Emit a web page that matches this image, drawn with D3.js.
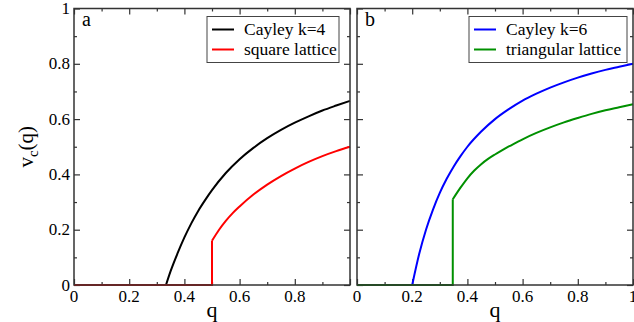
<!DOCTYPE html>
<html lang="en">
<head>
  <meta charset="UTF-8">
  <title>v_c(q)</title>
  <script src="https://d3js.org/d3.v7.min.js"></script>
  <style>
    body { margin: 0; background: #fff; }
  </style>
</head>
<body>
  <div class="canvas"></div>
  <script>
    // values
    const qCayley4 = [0.3333, 0.35, 0.375, 0.4, 0.425, 0.45, 0.475, 0.5, 0.55, 0.6, 0.65, 0.7, 0.75, 0.8, 0.85, 0.9, 0.95, 1.0];
    const vCayley4 = [0, 0.05, 0.114, 0.172, 0.223, 0.268, 0.307, 0.343, 0.405, 0.455, 0.496, 0.531, 0.561, 0.587, 0.61, 0.631, 0.649, 0.666];

    const qSquare = [0.5, 0.525, 0.55, 0.575, 0.6, 0.65, 0.7, 0.75, 0.8, 0.85, 0.9, 0.95, 1.0];
    const vSquare = [0.16, 0.199, 0.232, 0.26, 0.284, 0.327, 0.363, 0.394, 0.421, 0.445, 0.466, 0.484, 0.5];

    const qCayley6 = [0.2, 0.225, 0.25, 0.275, 0.3, 0.325, 0.35, 0.375, 0.4, 0.45, 0.5, 0.55, 0.6, 0.65, 0.7, 0.75, 0.8, 0.85, 0.9, 0.95, 1.0];
    const vCayley6 = [0, 0.111, 0.2, 0.272, 0.333, 0.384, 0.428, 0.466, 0.5, 0.555, 0.6, 0.636, 0.667, 0.692, 0.714, 0.733, 0.75, 0.765, 0.778, 0.789, 0.8];

    const qTriangular = [0.347, 0.375, 0.4, 0.425, 0.45, 0.475, 0.5, 0.525, 0.55, 0.575, 0.6, 0.65, 0.7, 0.75, 0.8, 0.85, 0.9, 0.95, 1.0];
    const vTriangular = [0.31, 0.352, 0.386, 0.414, 0.437, 0.456, 0.472, 0.487, 0.501, 0.514, 0.527, 0.55, 0.57, 0.588, 0.604, 0.619, 0.632, 0.643, 0.654];

    const xTicks = [0, 0.2, 0.4, 0.6, 0.8, 1];
    const yTicks = [0, 0.2, 0.4, 0.6, 0.8, 1];
    const minorTicks = [0.1, 0.3, 0.5, 0.7, 0.9];

    const panels = [
      {
        left: 74, label: "a", yLabels: true, xLabels: [0, 0.2, 0.4, 0.6, 0.8],
        legend: { x: 207, w: 132 },
        series: [
          { name: "Cayley k=4", color: "#000000", q: qCayley4, v: vCayley4 },
          { name: "square lattice", color: "#ff0000", q: qSquare, v: vSquare }
        ]
      },
      {
        left: 357, label: "b", yLabels: false, xLabels: xTicks,
        legend: { x: 469, w: 158 },
        series: [
          { name: "Cayley k=6", color: "#0000ff", q: qCayley6, v: vCayley6 },
          { name: "triangular lattice", color: "#009000", q: qTriangular, v: vTriangular }
        ]
      }
    ];

    const svgWidth = 634;
    const svgHeight = 322;
    const plotTop = 8.5;
    const graphWidth = 276;
    const graphHeight = 276.5;
    const serif = "'Liberation Serif', 'Times New Roman', Times, 'DejaVu Serif', serif";

    const svg = d3.select(".canvas")
      .append("svg")
      .attr("width", svgWidth)
      .attr("height", svgHeight)
      .attr("font-family", serif)
      .style("font-family", serif);

    const fmt = d => d === 0 ? "0" : d === 1 ? "1" : d3.format(".1f")(d);

    panels.forEach(p => {
      const graph = svg.append("g").attr("transform", `translate(${p.left}, ${plotTop})`);

      const x = d3.scaleLinear().domain([0, 1]).range([0, graphWidth]);
      const y = d3.scaleLinear().domain([0, 1]).range([graphHeight, 0]);

      // ticks pointing inward on all four sides
      const tickGroups = [
        [d3.axisBottom(x), `translate(0, ${graphHeight})`],
        [d3.axisTop(x), "translate(0, 0)"],
        [d3.axisLeft(y), "translate(0, 0)"],
        [d3.axisRight(y), `translate(${graphWidth}, 0)`]
      ];
      tickGroups.forEach(([axis, tr]) => {
        const major = graph.append("g").attr("transform", tr)
          .call(axis.tickValues(xTicks).tickSizeInner(-6).tickSizeOuter(0).tickFormat(""));
        const minor = graph.append("g").attr("transform", tr)
          .call(axis.tickValues(minorTicks).tickSizeInner(-3).tickSizeOuter(0).tickFormat(""));
        [major, minor].forEach(g => {
          g.select(".domain").remove();
          g.selectAll("line").attr("stroke", "#333").attr("stroke-width", 1.2);
        });
      });

      // tick labels
      graph.append("g").selectAll("text")
        .data(p.xLabels)
        .join("text")
        .attr("x", d => x(d))
        .attr("y", graphHeight + 17)
        .attr("text-anchor", "middle")
        .attr("font-size", 17)
        .text(fmt);

      if (p.yLabels) {
        graph.append("g").selectAll("text")
          .data(yTicks)
          .join("text")
          .attr("x", -4)
          .attr("y", d => y(d))
          .attr("dy", "0.33em")
          .attr("text-anchor", "end")
          .attr("font-size", 17)
          .text(fmt);

        const yl = svg.append("text")
          .attr("transform", `translate(33, ${plotTop + graphHeight / 2}) rotate(-90)`)
          .attr("text-anchor", "middle")
          .attr("font-size", 21);
        yl.append("tspan").text("v");
        yl.append("tspan").attr("font-size", 15).attr("dy", 5).text("c");
        yl.append("tspan").attr("dy", -5).text("(q)");
      }

      graph.append("text")
        .attr("x", graphWidth / 2)
        .attr("y", graphHeight + 32)
        .attr("text-anchor", "middle")
        .attr("font-size", 22)
        .text("q");

      // curves: flat zero part and jump drawn straight, rest smooth
      const flat = d3.line().x(d => x(d[0])).y(d => y(d[1]));
      const smooth = d3.line().x(d => x(d[0])).y(d => y(d[1])).curve(d3.curveMonotoneX);

      p.series.forEach(s => {
        const pts = s.q.map((q, i) => [q, s.v[i]]);
        graph.append("path")
          .attr("d", flat([[0, 0], [s.q[0], 0], pts[0]]))
          .attr("fill", "none")
          .attr("stroke", s.color)
          .attr("stroke-width", 2);
        graph.append("path")
          .attr("d", smooth(pts))
          .attr("fill", "none")
          .attr("stroke", s.color)
          .attr("stroke-width", 2);
      });

      // frame
      graph.append("rect")
        .attr("width", graphWidth)
        .attr("height", graphHeight)
        .attr("fill", "none")
        .attr("stroke", "#333")
        .attr("stroke-width", 1.5);

      graph.append("text")
        .attr("x", 8)
        .attr("y", 17)
        .attr("font-size", 20)
        .text(p.label);

      // legend
      const lg = svg.append("g").attr("transform", `translate(${p.legend.x}, 16.5)`);
      lg.append("rect")
        .attr("width", p.legend.w)
        .attr("height", 46)
        .attr("fill", "#fff")
        .attr("stroke", "#444")
        .attr("stroke-width", 1);
      p.series.forEach((s, i) => {
        const cy = 13 + i * 20;
        lg.append("line")
          .attr("x1", 5).attr("x2", 27)
          .attr("y1", cy).attr("y2", cy)
          .attr("stroke", s.color)
          .attr("stroke-width", 2);
        lg.append("text")
          .attr("x", 37)
          .attr("y", cy)
          .attr("dy", "0.33em")
          .attr("font-size", 17.5)
          .text(s.name);
      });
    });
  </script>
</body>
</html>
